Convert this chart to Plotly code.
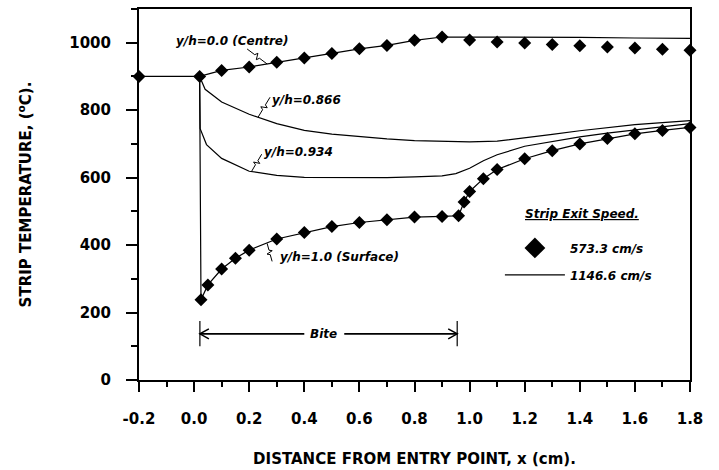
import plotly.graph_objects as go

# ---------------- data ----------------
# y/h = 0.0 (Centre), 573.3 cm/s markers
centre_m_x = [-0.2, 0.02, 0.1, 0.2, 0.3, 0.4, 0.5, 0.6, 0.7, 0.8, 0.9,
              1.0, 1.1, 1.2, 1.3, 1.4, 1.5, 1.6, 1.7, 1.8]
centre_m_y = [900, 900, 918, 928, 942, 955, 968, 982, 992, 1007, 1017,
              1008, 1002, 999, 995, 991, 987, 984, 981, 978]

# y/h = 0.0 (Centre), 1146.6 cm/s line
centre_l_x = [-0.2, 0.02, 0.1, 0.2, 0.3, 0.4, 0.5, 0.6, 0.7, 0.8, 0.9,
              1.0, 1.2, 1.4, 1.6, 1.8]
centre_l_y = [900, 900, 918, 928, 942, 955, 968, 982, 992, 1007, 1017,
              1017, 1017, 1016, 1014, 1013]

# y/h = 1.0 (Surface)
surf_x = [0.025, 0.05, 0.1, 0.15, 0.2, 0.3, 0.4, 0.5, 0.6, 0.7, 0.8, 0.9,
          0.96, 0.98, 1.0, 1.05, 1.1, 1.2, 1.3, 1.4, 1.5, 1.6, 1.7, 1.8]
surf_y = [238, 282, 329, 361, 385, 418, 437, 455, 467, 475, 483, 485,
          487, 528, 559, 597, 624, 656, 680, 700, 716, 730, 740, 749]
entry_x = 0.02
entry_T = 900

# y/h = 0.866
h866_x = [0.02, 0.04, 0.1, 0.2, 0.3, 0.4, 0.5, 0.6, 0.7, 0.8, 0.9, 1.0,
          1.1, 1.2, 1.3, 1.4, 1.5, 1.6, 1.7, 1.8]
h866_y = [900, 862, 824, 788, 760, 740, 729, 721, 715, 710, 707, 706,
          708, 717, 728, 739, 748, 757, 763, 769]

# y/h = 0.934
h934_x = [0.02, 0.022, 0.045, 0.1, 0.2, 0.3, 0.4, 0.5, 0.6, 0.7, 0.8, 0.9,
          0.95, 1.0, 1.05, 1.1, 1.2, 1.3, 1.4, 1.5, 1.6, 1.7, 1.8]
h934_y = [900, 745, 698, 657, 619, 607, 601, 600, 599, 600, 602, 605,
          612, 628, 650, 668, 693, 708, 721, 732, 742, 751, 760]

bite_start = 0.021
bite_end = 0.955

x_ticks = [-0.2, 0.0, 0.2, 0.4, 0.6, 0.8, 1.0, 1.2, 1.4, 1.6, 1.8]
x_tick_text = [f"{v:.1f}" for v in x_ticks]
y_ticks = [0, 200, 400, 600, 800, 1000]

# ---------------- figure ----------------
FONT = "DejaVu Sans"
BLACK = "black"
fig = go.Figure()

line_style = dict(color=BLACK, width=1.2)
mk = dict(symbol="diamond", size=10, color=BLACK)

fig.add_trace(go.Scatter(x=centre_l_x, y=centre_l_y, mode="lines",
                         line=line_style, showlegend=False, cliponaxis=False))
fig.add_trace(go.Scatter(x=h866_x, y=h866_y, mode="lines",
                         line=line_style, showlegend=False, cliponaxis=False))
fig.add_trace(go.Scatter(x=h934_x, y=h934_y, mode="lines",
                         line=line_style, showlegend=False, cliponaxis=False))
fig.add_trace(go.Scatter(x=[entry_x] + surf_x, y=[entry_T] + surf_y, mode="lines",
                         line=line_style, showlegend=False, cliponaxis=False))
fig.add_trace(go.Scatter(x=centre_m_x, y=centre_m_y, mode="markers",
                         marker=mk, showlegend=False, cliponaxis=False))
fig.add_trace(go.Scatter(x=surf_x, y=surf_y, mode="markers",
                         marker=mk, showlegend=False, cliponaxis=False))

# legend entries
fig.add_trace(go.Scatter(x=[None], y=[None], mode="markers", name="573.3 cm/s",
                         legendgroup="a",
                         marker=dict(symbol="diamond", size=17, color=BLACK)))
fig.add_trace(go.Scatter(x=[None], y=[None], mode="lines", name="1146.6 cm/s",
                         legendgroup="b", line=dict(color=BLACK, width=1.2)))

ann_font = dict(family=FONT, size=12, color=BLACK, style="italic", weight="bold")

labels = [
    dict(x=0.139, y=1004, text="y/h=0.0 (Centre)", xanchor="center"),
    dict(x=0.276, y=830, text="y/h=0.866", xanchor="left"),
    dict(x=0.245, y=675, text="y/h=0.934", xanchor="left"),
    dict(x=0.305, y=365, text="y/h=1.0 (Surface)", xanchor="left"),
    dict(x=1.408, y=493, text="<u>Strip Exit Speed.</u>", xanchor="center"),
    dict(x=0.471, y=137, text="Bite", xanchor="center"),
]
for lb in labels:
    fig.add_annotation(x=lb["x"], y=lb["y"], text=lb["text"], xanchor=lb["xanchor"],
                       yanchor="middle", showarrow=False, font=ann_font)

# Bite arrows: shafts, open arrowheads and end bars
for tip, tail in [(bite_start, 0.400), (bite_end, 0.545)]:
    fig.add_shape(type="line", x0=tail, x1=tip, y0=137, y1=137,
                  line=dict(color=BLACK, width=1.8))
    s = -1 if tip < tail else 1
    fig.add_shape(type="path", xref="x", yref="y", xsizemode="pixel",
                  ysizemode="pixel", xanchor=tip, yanchor=137,
                  path=f"M{-9 * s},5 L0,0 L{-9 * s},-5",
                  line=dict(color=BLACK, width=1.5))
for xv in [bite_start, bite_end]:
    fig.add_shape(type="line", x0=xv, x1=xv, y0=100, y1=175,
                  line=dict(color=BLACK, width=1.2))


def squiggle(dx, dy, amp=3.0):
    L = (dx * dx + dy * dy) ** 0.5
    px, py = -dy / L * amp, dx / L * amp
    pts = [(0, 0), (0.38 * dx, 0.38 * dy),
           (0.45 * dx + px, 0.45 * dy + py),
           (0.55 * dx - px, 0.55 * dy - py),
           (0.62 * dx, 0.62 * dy), (dx, dy)]
    return "M" + " L".join(f"{a:.1f},{b:.1f}" for a, b in pts)


# leaders: anchor on curve (data), offsets in pixels (y up)
leaders = [
    (0.265, 937, -20, 15),
    (0.232, 779, 12, 20),
    (0.209, 619, 10, 17),
    (0.265, 405, 5, -18),
]
for ax_, ay_, dx, dy in leaders:
    fig.add_shape(type="path", xref="x", yref="y", xsizemode="pixel",
                  ysizemode="pixel", xanchor=ax_, yanchor=ay_,
                  path=squiggle(dx, dy), line=dict(color=BLACK, width=1.0))

tick_font = dict(family=FONT, size=15, color=BLACK, weight="bold")
title_font = dict(family=FONT, size=15, color=BLACK, weight="bold")

fig.update_layout(
    width=719, height=470,
    margin=dict(l=139, r=29, t=9, b=90, autoexpand=False),
    paper_bgcolor="white", plot_bgcolor="white",
    font=dict(family=FONT, color=BLACK),
    legend=dict(x=0.655, y=0.395, xanchor="left", yanchor="top",
                font=dict(family=FONT, size=12, color=BLACK, style="italic",
                          weight="bold"),
                bgcolor="rgba(0,0,0,0)", itemwidth=60, tracegroupgap=8),
    showlegend=True,
)

fig.update_xaxes(
    range=[-0.2, 1.8], tickvals=x_ticks, ticktext=x_tick_text,
    ticks="outside", ticklen=10, tickwidth=2, tickcolor=BLACK,
    minor=dict(dtick=0.1, tick0=0, ticks="outside", ticklen=5, tickwidth=2,
               tickcolor=BLACK),
    showline=True, linewidth=2, linecolor=BLACK, mirror=True, automargin=False,
    showgrid=False, zeroline=False, tickfont=tick_font, ticklabelstandoff=14,
    title=dict(text="DISTANCE FROM ENTRY POINT, x (cm).", font=title_font,
               standoff=26),
)
fig.update_yaxes(
    range=[0, 1100], tickvals=y_ticks,
    ticks="outside", ticklen=11, tickwidth=2, tickcolor=BLACK,
    minor=dict(dtick=100, tick0=0, ticks="outside", ticklen=6, tickwidth=2,
               tickcolor=BLACK),
    showline=True, linewidth=2, linecolor=BLACK, mirror=True, automargin=False,
    showgrid=False, zeroline=False, tickfont=tick_font, ticklabelstandoff=12,
    title=dict(text="STRIP TEMPERATURE, (<sup>o</sup>C).", font=title_font,
               standoff=34),
)

fig.write_html("out.html")
